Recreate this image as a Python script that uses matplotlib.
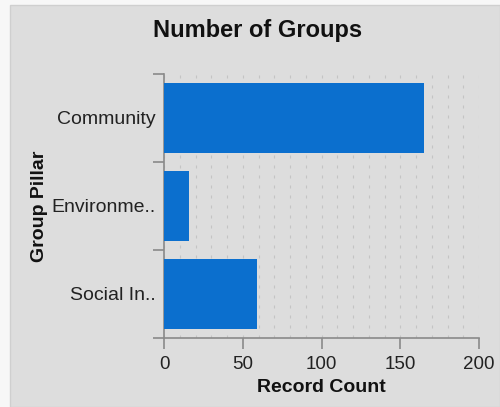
import matplotlib
matplotlib.use("Agg")
import matplotlib.pyplot as plt
from matplotlib.patches import Rectangle
from matplotlib.ticker import MultipleLocator, FixedLocator

# data
categories = ["Community", "Environme..", "Social In.."]
counts = [165, 16, 59]

plt.rcParams["font.family"] = ["Liberation Sans", "DejaVu Sans"]

fig = plt.figure(figsize=(5.0, 4.07), dpi=100, facecolor="#f7f7f7")

# grey panel behind the chart
panel = Rectangle((10 / 500, 0), 1 - 10 / 500, 1 - 5 / 407, transform=fig.transFigure,
                  facecolor="#dddddd", edgecolor="#cfcfcf", linewidth=1, zorder=-5)
fig.add_artist(panel)

ax = fig.add_axes([164 / 500, 69 / 407, 315 / 500, 264 / 407])
ax.set_facecolor("none")

pos = list(range(len(categories)))
ax.barh(pos, counts, height=0.8, color="#0b6fce", zorder=3)

ax.set_xlim(0, 200)
ax.set_ylim(len(categories) - 0.5, -0.5)

# x ticks
ax.xaxis.set_major_locator(MultipleLocator(50))
ax.xaxis.set_minor_locator(MultipleLocator(10))
ax.tick_params(axis="x", which="major", length=8, width=1.2, color="#8a8a8a",
               labelsize=13.5, pad=5, labelcolor="#222222")
ax.tick_params(axis="x", which="minor", length=0)

# y ticks: marks at band edges, labels in band centres
ax.yaxis.set_major_locator(FixedLocator([i - 0.5 for i in range(len(categories) + 1)]))
ax.yaxis.set_major_formatter(plt.NullFormatter())
ax.set_yticks(pos, categories, minor=True)
ax.tick_params(axis="y", which="major", length=8, width=1.2, color="#8a8a8a")
ax.tick_params(axis="y", which="minor", length=0, labelsize=14, pad=6,
               labelcolor="#222222")
for lab in ax.get_yticklabels(minor=True):
    lab.set_va("center_baseline")

# dotted grid
ax.grid(axis="x", which="both", color="#c4c4c4", linewidth=0.8,
        linestyle=(0, (2.7, 6.3)), zorder=1)

for side in ["top", "right"]:
    ax.spines[side].set_visible(False)
for side in ["left", "bottom"]:
    ax.spines[side].set_color("#8a8a8a")
    ax.spines[side].set_linewidth(1.2)

ax.set_xlabel("Record Count", fontsize=14, fontweight="bold", color="#111111")
ax.xaxis.set_label_coords(0.5, -0.155)
ax.set_ylabel("Group Pillar", fontsize=14, fontweight="bold", color="#111111")
ax.yaxis.set_label_coords(-0.368, 0.5)

fig.text(258 / 500, 1 - 31 / 407, "Number of Groups", ha="center", va="center",
         fontsize=17, fontweight="bold", color="#111111")

fig.savefig("out.png", dpi=100, facecolor=fig.get_facecolor())
